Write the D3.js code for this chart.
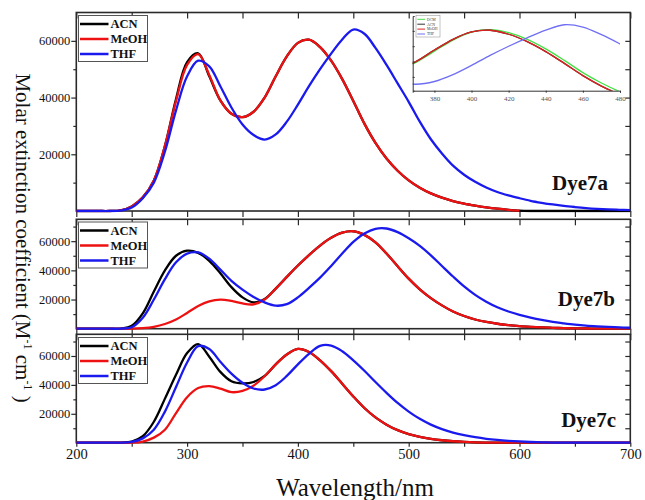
<!DOCTYPE html>
<html><head><meta charset="utf-8">
<script src="https://cdn.jsdelivr.net/npm/d3@7"></script>
<style>
body{margin:0;background:#fff}
svg{display:block}
text{font-family:"Liberation Serif","Times New Roman",serif}
</style>
</head><body>
<svg id="chart" width="645" height="500"></svg>
<script>
// ---------------- DATA ----------------
const wavelengths = [200,210,220,230,240,250,260,270,280,290,300,310,320,330,340,350,360,370,380,390,400,410,420,430,440,450,460,470,480,490,500,510,520,530,540,550,560,570,580,590,600,610,620,630,640,650,660,670,680,690,700];
const solvents = ["ACN","MeOH","THF"];
const panelNames = ["Dye7a","Dye7b","Dye7c"];

const dye7a_ACN  = [0,0,0,0,200,1600,4800,10800,23000,39500,52500,55600,47500,39000,34300,33100,35000,40000,47500,54500,59300,60400,57800,53000,46500,38800,30800,24000,18500,14200,10800,8200,6200,4700,3500,2600,1900,1300,800,400,100,0,0,0,0,0,0,0,0,0,0];
const dye7a_MeOH = [0,0,0,0,200,1600,4800,10800,23000,38800,51500,55300,48000,39000,34300,33100,35000,40000,47500,54500,59300,60400,57800,53000,46500,38800,30800,24000,18500,14200,10800,8200,6200,4700,3500,2600,1900,1300,800,400,100,null,null,null,null,null,null,null,null,null,null];
const dye7a_THF  = [0,0,0,0,150,1200,4500,10000,21000,35500,47500,53000,51000,44000,36500,30500,26800,25200,27000,31500,37500,44000,50000,55500,60500,64000,62500,57500,51500,45000,38500,31500,25300,20300,16000,12800,10300,8300,6700,5500,4500,3600,2900,2300,1800,1400,1050,780,580,420,300];

const dye7b_ACN  = [0,0,0,0,100,2000,10500,25500,40000,50000,53500,52000,46500,38000,28500,21500,18000,20300,27500,35500,43300,50500,57000,62300,65800,66800,64300,59200,51500,42800,34300,27000,21000,16000,11800,8700,6300,4600,3400,2500,1800,1300,900,600,380,230,130,60,20,0,0];
const dye7b_MeOH = [0,0,0,0,0,0,400,1300,3200,6300,10800,15500,18700,19900,19000,17300,16700,20000,27500,35500,43300,50500,57000,62300,65800,66800,64300,59200,51500,42800,34300,27000,21000,16000,11800,8700,6300,4600,3400,2500,1800,1300,900,600,380,230,130,60,20,0,0];
const dye7b_THF  = [0,0,0,0,50,1000,7500,20000,34000,45500,51500,52300,48000,40500,32800,26800,21800,18000,15800,16800,21500,28000,35000,43000,51500,59500,65300,68500,68700,66200,62000,56800,50300,43000,35800,29000,23200,18500,14700,11800,9500,7600,6000,4700,3700,2800,2100,1600,1200,900,650];

const dye7c_ACN  = [0,0,0,0,100,800,4500,14500,30500,47000,62000,68200,59500,49000,42500,41000,42000,46200,54200,61000,64900,62800,57000,49500,40800,32000,24000,17500,12500,8700,6000,4100,2700,1700,1000,550,250,100,0,0,0,0,0,0,0,0,0,0,0,0,0];
const dye7c_MeOH = [0,0,0,0,0,0,800,3500,9000,20500,31500,37800,39100,37400,35000,35800,39500,46000,54200,61000,64900,62800,57000,49500,40800,32000,24000,17500,12500,8700,6000,4100,2700,1700,1000,550,250,100,0,0,0,0,0,0,0,0,0,0,0,0,0];
const dye7c_THF  = [0,0,0,0,50,500,3000,9000,21500,38500,55500,66800,64800,56000,47800,41500,37500,36800,39800,46200,54200,61500,67000,67200,63300,57000,49800,42000,34500,27500,21500,16500,12500,9400,7000,5200,3800,2700,1900,1300,850,500,280,120,40,0,0,0,0,0,0];

// inset (Dye7a, 368-480 nm zoom) extra DCM series
const insetSolvents = ["DCM","ACN","MeOH","THF"];
const dcmWavelengths = [360,370,380,390,400,410,420,430,440,450,460,470,480,490];
const dcmValues      = [34500,39500,46800,54000,59200,60800,58800,54500,48300,40800,32800,26000,20300,15500];

const xTickLabels = [200,300,400,500,600,700];
const xTicksAll = [200,250,300,350,400,450,500,550,600,650,700];
const yTickLabels = [20000,40000,60000];
const yMinorTicks = [10000,30000,50000,70000];
const insetXTicks = [380,400,420,440,460,480];
const insetYTicks = [30000,40000,50000,60000];

// ---------------- DRAW ----------------
const svg = d3.select("#chart");
const colors = {ACN:"#000000", MeOH:"#ee1111", THF:"#1a1aee", DCM:"#33dd33"};
const x = d3.scaleLinear().domain([200,700]).range([76.3,630.3]);

const panels = [
  {name:panelNames[0], top:12.5, bottom:211, ymax:70000, series:[dye7a_ACN,dye7a_MeOH,dye7a_THF], legTop:15.5, labelX:608, labelY:190},
  {name:panelNames[1], top:219.3, bottom:328.7, ymax:75000, series:[dye7b_ACN,dye7b_MeOH,dye7b_THF], legTop:222, labelX:615, labelY:306},
  {name:panelNames[2], top:334.3, bottom:442.7, ymax:75000, series:[dye7c_ACN,dye7c_MeOH,dye7c_THF], legTop:337.5, labelX:616, labelY:427}
];

const frameColor = "#2a2a2a";

panels.forEach((p, pi) => {
  const y = d3.scaleLinear().domain([0,p.ymax]).range([p.bottom,p.top]);
  const g = svg.append("g");
  const clipId = "clip"+pi;
  svg.append("clipPath").attr("id",clipId).append("rect")
     .attr("x",x(200)).attr("y",p.top).attr("width",x(700)-x(200)).attr("height",p.bottom-p.top+1.5);

  const styleAxis = sel => {
    sel.select(".domain").remove();
    sel.selectAll(".tick line").attr("stroke",frameColor).attr("stroke-width",1.2);
  };
  g.append("g").attr("transform",`translate(${x(200)},0)`)
    .call(d3.axisLeft(y).tickValues(yTickLabels).tickSize(5).tickPadding(1).tickFormat(d3.format("d")))
    .call(styleAxis)
    .call(s=>s.selectAll("text").attr("font-size",12.5).attr("fill","#111").attr("font-family","Liberation Serif"));
  g.append("g").attr("transform",`translate(${x(200)},0)`)
    .call(d3.axisLeft(y).tickValues(yMinorTicks.filter(v=>v<p.ymax)).tickSize(3).tickFormat(""))
    .call(styleAxis);
  g.append("g").attr("transform",`translate(${x(700)},0)`)
    .call(d3.axisRight(y).tickValues(yTickLabels.concat(yMinorTicks.filter(v=>v<p.ymax))).tickSize(-5).tickFormat(""))
    .call(styleAxis);
  g.append("g").attr("transform",`translate(0,${p.top})`)
    .call(d3.axisTop(x).tickValues(xTicksAll).tickSize(-6).tickFormat(""))
    .call(styleAxis);
  const bx = d3.axisBottom(x).tickValues(xTicksAll).tickSize(pi===2?4:6).tickPadding(2)
     .tickFormat(d => (pi===2 && xTickLabels.includes(d)) ? d : "");
  g.append("g").attr("transform",`translate(0,${p.bottom})`)
    .call(bx).call(styleAxis)
    .call(s=>s.selectAll("text").attr("font-size",14.5).attr("fill","#111").attr("font-family","Liberation Serif"));

  g.append("rect").attr("x",x(200)).attr("y",p.top).attr("width",x(700)-x(200)).attr("height",p.bottom-p.top)
    .attr("fill","none").attr("stroke",frameColor).attr("stroke-width",1.6);

  const line = d3.line()
    .defined(d => d[1] !== null)
    .x(d => x(d[0])).y(d => y(d[1]))
    .curve(d3.curveCatmullRom.alpha(0.5));
  const cg = g.append("g").attr("clip-path",`url(#${clipId})`);
  p.series.forEach((vals, si) => {
    cg.append("path")
      .datum(wavelengths.map((w,i)=>[w, vals[i]]))
      .attr("fill","none").attr("stroke",colors[solvents[si]])
      .attr("stroke-width",2.3).attr("stroke-linejoin","round")
      .attr("d",line);
  });

  const lg = g.append("g");
  lg.append("rect").attr("x",78.5).attr("y",p.legTop).attr("width",69).attr("height",46)
    .attr("fill","#fff").attr("stroke","#555").attr("stroke-width",1);
  solvents.forEach((s, si) => {
    const yy = p.legTop + 8.5 + si*15;
    lg.append("line").attr("x1",80).attr("x2",108.5).attr("y1",yy).attr("y2",yy)
      .attr("stroke",colors[s]).attr("stroke-width",2.5);
    lg.append("text").attr("x",110.5).attr("y",yy+4.2).text(s)
      .attr("font-size",12.5).attr("font-weight","bold").attr("fill","#111");
  });

  g.append("text").attr("x",p.labelX).attr("y",p.labelY).attr("text-anchor","end")
    .attr("font-size",21).attr("font-weight","bold").attr("fill","#111").text(p.name);

  if (pi === 0) {
    const ix = d3.scaleLinear().domain([368.3,480]).range([412.7,620]);
    const iy = d3.scaleLinear().domain([21000,69700]).range([90.7,16]);
    const ig = g.append("g");
    ig.append("clipPath").attr("id","iclip").append("rect")
      .attr("x",412.7).attr("y",16).attr("width",620-412.7).attr("height",90.7-16);
    const il = d3.line().x(d=>ix(d[0])).y(d=>iy(d[1])).curve(d3.curveCatmullRom.alpha(0.5));
    const icg = ig.append("g").attr("clip-path","url(#iclip)");
    const insetData = [
      dcmWavelengths.map((w,i)=>[w,dcmValues[i]]),
      wavelengths.map((w,i)=>[w,dye7a_ACN[i]]),
      wavelengths.map((w,i)=>[w,dye7a_MeOH[i]]),
      wavelengths.map((w,i)=>[w,dye7a_THF[i]])
    ];
    const insetColors = {DCM:"#44e044", ACN:"#333333", MeOH:"#e02020", THF:"#6f6ff5"};
    insetData.forEach((d,k)=>{
      icg.append("path").datum(d.filter(q=>q[1]!==null))
        .attr("fill","none").attr("stroke",insetColors[insetSolvents[k]])
        .attr("stroke-width",1.3).attr("d",il);
    });
    ig.append("g").attr("transform","translate(0,90.7)")
      .call(d3.axisBottom(ix).tickValues(insetXTicks).tickSize(2).tickPadding(3))
      .call(s=>{s.select(".domain").attr("stroke","#333").attr("stroke-width",1);
                s.selectAll(".tick line").attr("stroke","#333");
                s.selectAll("text").attr("font-size",7).attr("fill","#555").attr("font-family","Liberation Sans");});
    ig.append("g").attr("transform","translate(412.7,0)")
      .call(d3.axisRight(iy).tickValues(insetYTicks).tickSize(2).tickFormat(""))
      .call(s=>{s.select(".domain").attr("stroke","#333").attr("stroke-width",1);
                s.selectAll(".tick line").attr("stroke","#333");});
    const ilg = ig.append("g");
    ilg.append("rect").attr("x",416).attr("y",15.5).attr("width",24).attr("height",21.5)
      .attr("fill","#fff").attr("stroke","#888").attr("stroke-width",0.5);
    insetSolvents.forEach((s,k)=>{
      const yy = 19.3 + k*4.9;
      ilg.append("line").attr("x1",417.3).attr("x2",425).attr("y1",yy).attr("y2",yy)
        .attr("stroke",insetColors[s]).attr("stroke-width",1);
      ilg.append("text").attr("x",427).attr("y",yy+1.3).attr("font-size",3.8).attr("fill","#333").text(s);
    });
  }
});

svg.append("text").attr("x",355).attr("y",496).attr("text-anchor","middle")
  .attr("font-size",25).attr("fill","#111").text("Wavelength/nm");

const yt = svg.append("text").attr("transform","translate(16,238) rotate(90)")
  .attr("text-anchor","middle").attr("font-size",21).attr("fill","#111");
yt.append("tspan").text("Molar extinction coefficient (M");
yt.append("tspan").attr("dy",-8).attr("font-size",12).text("-1");
yt.append("tspan").attr("dy",8).text(" cm");
yt.append("tspan").attr("dy",-8).attr("font-size",12).text("-1");
yt.append("tspan").attr("dy",8).text(" )");
</script>
</body></html>
